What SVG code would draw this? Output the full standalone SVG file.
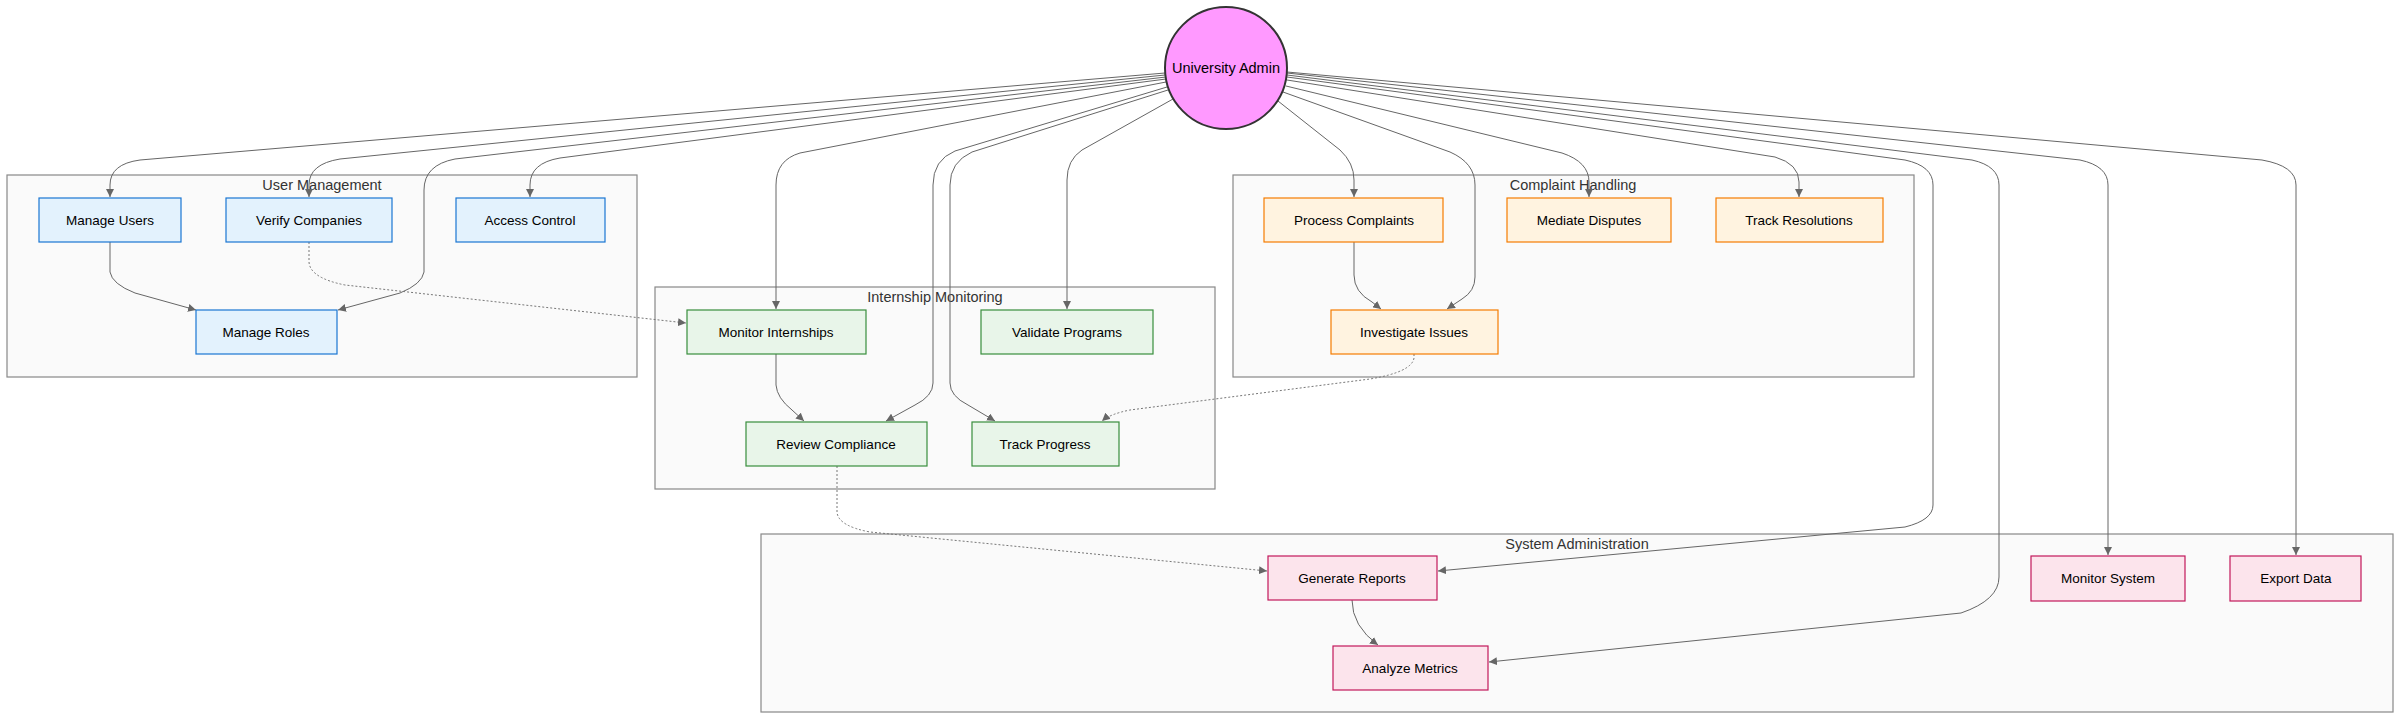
<svg xmlns="http://www.w3.org/2000/svg" width="2400" height="720" viewBox="0 0 2400 720">
<style>
.cluster{fill:#fafafa;stroke:#888;stroke-width:1.2}
.ctitle{font-family:"Liberation Sans",Arial,sans-serif;font-size:14.5px;fill:#333;text-anchor:middle}
.ntext{font-family:"Liberation Sans",Arial,sans-serif;font-size:13.5px;fill:#000;text-anchor:middle}
.um{fill:#e3f2fd;stroke:#1976d2;stroke-width:1.2}
.im{fill:#e8f5e9;stroke:#388e3c;stroke-width:1.2}
.ch{fill:#fff3e0;stroke:#f57c00;stroke-width:1.2}
.sa{fill:#fce4ec;stroke:#c2185b;stroke-width:1.2}
.e{fill:none;stroke:#666;stroke-width:1;marker-end:url(#arrow)}
.d{fill:none;stroke:#777;stroke-width:1;stroke-dasharray:2,2;marker-end:url(#arrow)}
</style>
<defs>
<marker id="arrow" viewBox="0 0 10 10" refX="10" refY="5" markerWidth="8" markerHeight="8" markerUnits="userSpaceOnUse" orient="auto">
<path d="M0,0 L10,5 L0,10 z" fill="#666"/>
</marker>
</defs>
<rect width="2400" height="720" fill="#fff"/>
<g id="clusters">
<g id="cluster-user-management"><rect class="cluster" x="7" y="175" width="630" height="202"/><text class="ctitle" x="322" y="190">User Management</text></g>
<g id="cluster-internship-monitoring"><rect class="cluster" x="655" y="287" width="560" height="202"/><text class="ctitle" x="935" y="302">Internship Monitoring</text></g>
<g id="cluster-complaint-handling"><rect class="cluster" x="1233" y="175" width="681" height="202"/><text class="ctitle" x="1573" y="190">Complaint Handling</text></g>
<g id="cluster-system-administration"><rect class="cluster" x="761" y="534" width="1632" height="178"/><text class="ctitle" x="1577" y="549">System Administration</text></g>
</g>
<g id="connectors">
<path class="e" d="M1165,73 L140,160 Q110,164 110,185 L110,197"/>
<path class="e" d="M1165,75 L340,159 Q309,164 309,185 L309,197"/>
<path class="e" d="M1166,77 L455,159 Q424,165 424,190 L424,272 Q422,284 400,293 L338,310"/>
<path class="e" d="M1166,79 L560,158 Q530,163 530,185 L530,197"/>
<path class="e" d="M1166,82 L800,153 Q776,160 776,185 L776,309"/>
<path class="e" d="M1167,87 L955,151 Q933,160 933,185 L933,383 Q933,396 915,405 L886,421"/>
<path class="e" d="M1168,90 L972,152 Q950,162 950,185 L950,383 Q950,396 968,405 L995,421"/>
<path class="e" d="M1173,99 L1082,150 Q1067,160 1067,180 L1067,309"/>
<path class="e" d="M1278,101 L1340,150 Q1354,163 1354,180 L1354,197"/>
<path class="e" d="M1283,92 L1450,152 Q1475,163 1475,185 L1475,277 Q1475,291 1462,299 L1447,309"/>
<path class="e" d="M1286,86 L1562,153 Q1589,162 1589,182 L1589,197"/>
<path class="e" d="M1287,80 L1775,157 Q1799,164 1799,182 L1799,197"/>
<path class="e" d="M1287,77 L1905,160 Q1933,166 1933,185 L1933,505 Q1933,520 1905,527 L1438,571"/>
<path class="e" d="M1287,75 L1972,160 Q1999,166 1999,185 L1999,577 Q1999,600 1961,613 L1489,662"/>
<path class="e" d="M1287,73 L2080,160 Q2108,166 2108,185 L2108,555"/>
<path class="e" d="M1287,72 L2262,160 Q2296,166 2296,185 L2296,555"/>
<path class="e" d="M110,242 L110,272 Q112,284 135,293 L196,310"/>
<path class="d" d="M309,242 L309,262 Q310,278 345,285 L686,323"/>
<path class="e" d="M776,354 L776,385 Q777,398 792,410 L804,421"/>
<path class="d" d="M837,466 L837,512 Q838,526 870,532 L1267,571"/>
<path class="e" d="M1354,242 L1354,275 Q1354,292 1372,302 L1381,309"/>
<path class="d" d="M1414,354 L1414,358 Q1412,372 1370,379 L1130,410 Q1110,414 1102,421"/>
<path class="e" d="M1352,600 Q1352,626 1378,645"/>
</g>
<g id="node-admin"><ellipse cx="1226" cy="68" rx="61" ry="61" fill="#f9f" stroke="#333" stroke-width="2"/><text class="ntext" x="1226" y="73" style="font-size:14.5px">University Admin</text></g>
<g id="node-manage-users"><rect class="um" x="39" y="198" width="142" height="44"/><text class="ntext" x="110" y="225">Manage Users</text></g>
<g id="node-verify-companies"><rect class="um" x="226" y="198" width="166" height="44"/><text class="ntext" x="309" y="225">Verify Companies</text></g>
<g id="node-access-control"><rect class="um" x="456" y="198" width="149" height="44"/><text class="ntext" x="530" y="225">Access Control</text></g>
<g id="node-manage-roles"><rect class="um" x="196" y="310" width="141" height="44"/><text class="ntext" x="266" y="337">Manage Roles</text></g>
<g id="node-monitor-internships"><rect class="im" x="687" y="310" width="179" height="44"/><text class="ntext" x="776" y="337">Monitor Internships</text></g>
<g id="node-validate-programs"><rect class="im" x="981" y="310" width="172" height="44"/><text class="ntext" x="1067" y="337">Validate Programs</text></g>
<g id="node-review-compliance"><rect class="im" x="746" y="422" width="181" height="44"/><text class="ntext" x="836" y="449">Review Compliance</text></g>
<g id="node-track-progress"><rect class="im" x="972" y="422" width="147" height="44"/><text class="ntext" x="1045" y="449">Track Progress</text></g>
<g id="node-process-complaints"><rect class="ch" x="1264" y="198" width="179" height="44"/><text class="ntext" x="1354" y="225">Process Complaints</text></g>
<g id="node-mediate-disputes"><rect class="ch" x="1507" y="198" width="164" height="44"/><text class="ntext" x="1589" y="225">Mediate Disputes</text></g>
<g id="node-track-resolutions"><rect class="ch" x="1716" y="198" width="167" height="44"/><text class="ntext" x="1799" y="225">Track Resolutions</text></g>
<g id="node-investigate-issues"><rect class="ch" x="1331" y="310" width="167" height="44"/><text class="ntext" x="1414" y="337">Investigate Issues</text></g>
<g id="node-generate-reports"><rect class="sa" x="1268" y="556" width="169" height="44"/><text class="ntext" x="1352" y="583">Generate Reports</text></g>
<g id="node-analyze-metrics"><rect class="sa" x="1333" y="646" width="155" height="44"/><text class="ntext" x="1410" y="673">Analyze Metrics</text></g>
<g id="node-monitor-system"><rect class="sa" x="2031" y="556" width="154" height="45"/><text class="ntext" x="2108" y="583">Monitor System</text></g>
<g id="node-export-data"><rect class="sa" x="2230" y="556" width="131" height="45"/><text class="ntext" x="2296" y="583">Export Data</text></g>
</svg>
